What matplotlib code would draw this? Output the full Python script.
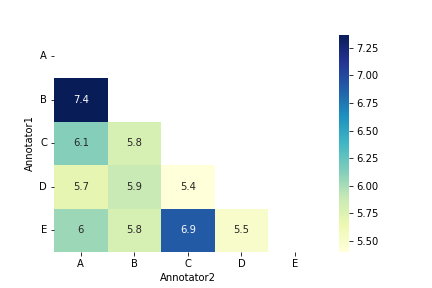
import matplotlib
matplotlib.use("Agg")
import matplotlib.pyplot as plt
import numpy as np
import pandas as pd
import seaborn as sns

labels = ["A", "B", "C", "D", "E"]
# lower triangle values (row = Annotator1, column = Annotator2)
row_B = [7.37]
row_C = [6.12, 5.8]
row_D = [5.7, 5.88, 5.4]
row_E = [6.04, 5.8, 6.9, 5.5]

mat = np.full((5, 5), np.nan)
for i, row in enumerate([row_B, row_C, row_D, row_E], start=1):
    mat[i, :len(row)] = row
df = pd.DataFrame(mat, index=labels, columns=labels)
df.index.name = "Annotator1"
df.columns.name = "Annotator2"

mask = np.triu(np.ones_like(mat, dtype=bool))

fig = plt.figure(figsize=(6, 4), dpi=72)
ax = sns.heatmap(df, mask=mask, annot=True, cmap="YlGnBu")
plt.yticks(rotation=0)
fig.subplots_adjust(bottom=0.125)
fig.savefig("out.png", dpi=72)
plt.close()
